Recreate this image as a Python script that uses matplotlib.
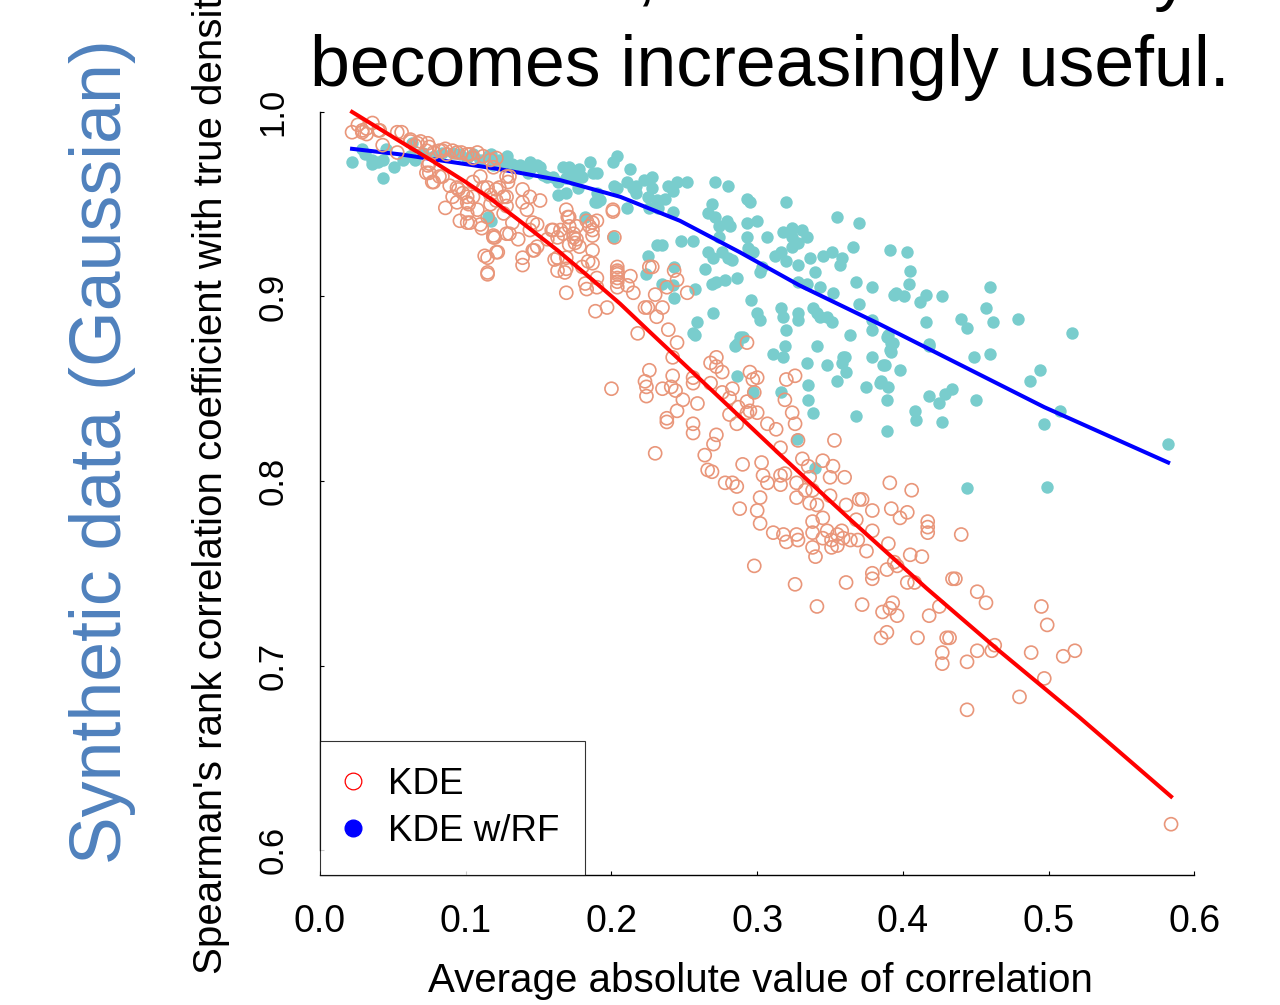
import numpy as np
import matplotlib.pyplot as plt
from matplotlib.lines import Line2D

plt.rcParams['font.family'] = ['Liberation Sans', 'DejaVu Sans']

# KDE (open circles): average |corr| vs Spearman rho with true density
kde_pts = np.array([
    (0.022,0.989),(0.026,0.993),(0.029,0.989),(0.032,0.991),(0.036,0.994),(0.041,0.990),(0.043,0.982),(0.053,0.989),(0.056,0.989),(0.053,0.978),
    (0.062,0.985),(0.065,0.982),(0.069,0.984),(0.074,0.983),(0.073,0.979),(0.078,0.978),(0.084,0.979),(0.087,0.977),(0.094,0.978),(0.101,0.977),
    (0.105,0.975),(0.074,0.971),(0.073,0.967),(0.077,0.962),(0.082,0.965),(0.089,0.960),(0.094,0.959),(0.098,0.956),(0.091,0.954),(0.101,0.951),
    (0.105,0.954),(0.086,0.948),(0.096,0.941),(0.101,0.940),(0.103,0.940),(0.111,0.937),(0.115,0.943),(0.108,0.947),(0.117,0.950),(0.115,0.959),
    (0.119,0.932),(0.113,0.922),(0.122,0.924),(0.115,0.913),(0.128,0.934),(0.132,0.940),(0.126,0.954),(0.128,0.949),(0.121,0.958),(0.130,0.965),
    (0.129,0.962),(0.136,0.931),(0.139,0.921),(0.139,0.917),(0.146,0.925),(0.146,0.940),(0.142,0.947),(0.151,0.952),(0.144,0.954),(0.149,0.927),
    (0.160,0.936),(0.163,0.932),(0.169,0.947),(0.171,0.943),(0.176,0.938),(0.174,0.932),(0.175,0.929),(0.169,0.921),(0.161,0.920),(0.163,0.914),
    (0.168,0.913),(0.169,0.902),(0.182,0.907),(0.183,0.904),(0.187,0.918),(0.187,0.925),(0.187,0.940),(0.183,0.941),(0.201,0.946),(0.202,0.932),
    (0.204,0.914),(0.204,0.910),
    (0.029,0.990),(0.032,0.988),(0.040,0.990),(0.062,0.984),(0.067,0.983),(0.075,0.981),(0.082,0.979),(0.086,0.980),(0.091,0.979),(0.097,0.978),
    (0.103,0.977),(0.108,0.978),(0.112,0.976),(0.117,0.974),(0.121,0.975),(0.075,0.972),(0.075,0.967),(0.078,0.962),(0.084,0.965),(0.095,0.958),
    (0.094,0.951),(0.101,0.954),(0.102,0.950),(0.105,0.962),(0.110,0.965),(0.112,0.959),(0.117,0.955),(0.101,0.945),(0.110,0.939),(0.119,0.933),
    (0.119,0.970),(0.128,0.965),(0.123,0.959),(0.121,0.952),(0.128,0.954),(0.126,0.945),(0.139,0.958),(0.139,0.951),(0.120,0.932),(0.130,0.934),
    (0.144,0.936),(0.149,0.939),(0.147,0.925),(0.156,0.931),(0.159,0.936),(0.163,0.921),(0.165,0.936),(0.170,0.943),(0.171,0.938),(0.167,0.934),
    (0.174,0.934),(0.176,0.931),(0.171,0.928),(0.178,0.927),(0.185,0.938),(0.187,0.936),(0.190,0.941),(0.187,0.933),(0.184,0.919),(0.180,0.916),
    (0.169,0.915),(0.201,0.947),(0.204,0.916),(0.204,0.913),(0.213,0.911),(0.226,0.916),
    (0.115,0.921),(0.121,0.924),(0.115,0.912),(0.190,0.910),(0.190,0.905),(0.189,0.892),(0.197,0.894),(0.204,0.912),(0.204,0.908),(0.204,0.905),
    (0.211,0.906),(0.215,0.902),(0.228,0.916),(0.230,0.901),(0.223,0.894),(0.225,0.894),(0.231,0.889),(0.235,0.894),(0.243,0.914),(0.245,0.909),
    (0.252,0.902),(0.238,0.905),(0.239,0.882),(0.245,0.875),(0.218,0.880),(0.242,0.867),(0.226,0.860),(0.223,0.854),(0.224,0.851),(0.224,0.846),
    (0.200,0.850),(0.235,0.850),(0.241,0.851),(0.242,0.857),(0.249,0.844),(0.245,0.838),(0.238,0.834),(0.238,0.832),(0.256,0.831),(0.256,0.826),
    (0.230,0.815),(0.259,0.842),(0.256,0.853),
    (0.244,0.849),(0.256,0.856),(0.268,0.864),(0.272,0.867),(0.272,0.862),(0.276,0.859),(0.268,0.853),(0.276,0.848),(0.283,0.850),(0.281,0.845),
    (0.287,0.840),(0.281,0.836),(0.286,0.831),(0.293,0.843),(0.293,0.837),(0.295,0.859),(0.297,0.855),(0.300,0.856),(0.298,0.848),(0.295,0.838),
    (0.300,0.837),(0.293,0.875),(0.272,0.825),(0.270,0.820),(0.264,0.814),(0.266,0.806),(0.269,0.805),(0.278,0.799),(0.283,0.799),(0.286,0.797),
    (0.290,0.809),(0.288,0.785),(0.300,0.784),(0.302,0.791),(0.302,0.777),(0.298,0.754),(0.303,0.810),(0.307,0.831),(0.313,0.828),(0.316,0.818),
    (0.304,0.803),(0.307,0.799),(0.316,0.803),(0.319,0.804),(0.316,0.798),(0.320,0.855),(0.326,0.857),(0.319,0.844),(0.324,0.837),(0.326,0.831),
    (0.328,0.822),(0.331,0.812),(0.327,0.799),(0.327,0.791),(0.335,0.808),(0.336,0.802),(0.333,0.795),(0.338,0.795),(0.336,0.788),(0.345,0.811),
    (0.352,0.808),(0.350,0.802),(0.353,0.822),(0.360,0.802),(0.350,0.792),(0.341,0.787),(0.345,0.780),(0.338,0.778),(0.338,0.772),(0.348,0.773),
    (0.351,0.768),(0.345,0.769),(0.355,0.771),(0.358,0.773),(0.359,0.769),(0.351,0.764),(0.355,0.765),(0.338,0.764),(0.340,0.759),(0.311,0.772),
    (0.318,0.771),(0.320,0.767),(0.327,0.771),(0.328,0.768),(0.361,0.787),(0.368,0.779),(0.370,0.790),(0.364,0.768),(0.369,0.768),(0.375,0.762),
    (0.379,0.773),(0.379,0.784),(0.391,0.799),(0.406,0.795),(0.392,0.785),(0.398,0.780),(0.403,0.783),(0.390,0.766),(0.405,0.760),(0.413,0.759),
    (0.417,0.775),(0.417,0.772),(0.417,0.778),(0.379,0.750),(0.379,0.747),(0.389,0.752),(0.394,0.756),(0.361,0.745),(0.326,0.744),
    (0.372,0.790),(0.440,0.771),(0.396,0.754),(0.403,0.745),(0.408,0.745),(0.434,0.747),(0.451,0.740),(0.457,0.734),(0.393,0.734),(0.386,0.729),
    (0.396,0.727),(0.391,0.731),(0.372,0.733),(0.341,0.732),(0.418,0.727),(0.425,0.732),(0.495,0.732),(0.499,0.722),(0.385,0.715),(0.389,0.718),
    (0.410,0.715),(0.430,0.715),(0.427,0.707),(0.427,0.701),(0.444,0.702),(0.451,0.708),(0.461,0.708),(0.463,0.711),(0.488,0.707),(0.510,0.705),
    (0.518,0.708),(0.497,0.693),(0.480,0.683),(0.444,0.676),(0.436,0.747),(0.432,0.715),(0.584,0.614),
])

# KDE w/RF (filled dots)
rf_pts = np.array([
    (0.022,0.973),(0.029,0.980),(0.031,0.977),(0.036,0.974),(0.040,0.973),(0.043,0.964),(0.045,0.980),(0.051,0.970),(0.057,0.974),(0.062,0.976),
    (0.065,0.974),(0.071,0.978),(0.078,0.976),(0.084,0.978),(0.091,0.978),(0.096,0.977),(0.101,0.975),(0.105,0.977),(0.110,0.974),(0.115,0.976),
    (0.117,0.977),(0.123,0.974),(0.128,0.976),(0.123,0.971),(0.132,0.971),(0.137,0.971),(0.144,0.973),(0.149,0.971),(0.144,0.969),(0.153,0.966),
    (0.160,0.965),(0.163,0.955),(0.167,0.970),(0.169,0.964),(0.174,0.966),(0.178,0.969),(0.180,0.965),(0.185,0.973),(0.187,0.967),(0.190,0.956),
    (0.192,0.952),(0.201,0.973),(0.202,0.960),(0.115,0.943),(0.182,0.943),(0.201,0.932),
    (0.036,0.972),(0.043,0.974),(0.063,0.983),(0.119,0.971),(0.117,0.941),
    (0.126,0.973),(0.132,0.972),(0.143,0.967),(0.151,0.970),(0.156,0.965),(0.163,0.962),(0.171,0.970),(0.174,0.963),(0.177,0.959),(0.169,0.956),
    (0.190,0.967),(0.190,0.951),(0.204,0.959),(0.213,0.969),(0.211,0.962),(0.217,0.956),(0.217,0.960),(0.222,0.963),(0.228,0.965),(0.228,0.959),
    (0.231,0.952),(0.225,0.954),(0.211,0.948),(0.226,0.948),(0.225,0.922),(0.231,0.928),(0.224,0.912),
    (0.204,0.976),(0.215,0.959),(0.239,0.960),(0.245,0.962),(0.252,0.962),(0.242,0.957),(0.237,0.953),(0.189,0.951),(0.232,0.948),(0.242,0.946),
    (0.271,0.962),(0.280,0.960),(0.293,0.953),(0.295,0.951),(0.320,0.951),(0.266,0.945),(0.269,0.950),(0.271,0.943),(0.279,0.941),(0.281,0.938),
    (0.274,0.938),(0.293,0.940),(0.300,0.941),(0.318,0.935),(0.324,0.937),(0.331,0.936),(0.324,0.932),(0.334,0.932),(0.324,0.927),(0.328,0.929),
    (0.307,0.932),(0.355,0.943),(0.370,0.940),(0.293,0.932),(0.294,0.926),(0.297,0.924),(0.256,0.930),(0.274,0.932),(0.276,0.924),(0.266,0.924),
    (0.235,0.928),(0.248,0.930),(0.243,0.916),(0.264,0.915),(0.270,0.921),(0.280,0.921),(0.283,0.920),(0.286,0.910),(0.278,0.909),(0.269,0.907),
    (0.272,0.908),(0.257,0.904),(0.243,0.899),(0.242,0.906),(0.235,0.907),(0.302,0.913),(0.303,0.916),(0.312,0.922),(0.316,0.924),(0.320,0.919),
    (0.328,0.917),(0.336,0.921),(0.340,0.913),(0.345,0.922),(0.351,0.924),(0.358,0.921),(0.357,0.917),(0.366,0.927),(0.391,0.925),(0.368,0.908),
    (0.379,0.905),(0.394,0.901),(0.352,0.902),(0.343,0.905),(0.328,0.908),(0.334,0.907),(0.296,0.898),(0.270,0.891),(0.259,0.886),(0.256,0.880),
    (0.300,0.891),(0.302,0.887),(0.316,0.894),(0.318,0.889),(0.328,0.891),(0.328,0.887),(0.338,0.894),(0.341,0.891),(0.343,0.889),(0.348,0.889),
    (0.351,0.886),(0.370,0.896),(0.379,0.887),(0.379,0.882),(0.364,0.879),(0.320,0.882),(0.290,0.878),(0.285,0.873),(0.311,0.869),(0.319,0.873),
    (0.318,0.867),(0.341,0.873),(0.334,0.864),(0.348,0.863),(0.359,0.867),(0.379,0.867),(0.388,0.863),(0.391,0.871),(0.392,0.875),(0.389,0.878),
    (0.403,0.924),(0.405,0.914),(0.404,0.907),(0.395,0.902),(0.401,0.900),(0.412,0.897),(0.416,0.901),(0.427,0.900),(0.460,0.905),(0.457,0.894),
    (0.440,0.888),(0.444,0.883),(0.462,0.886),(0.479,0.888),(0.516,0.880),(0.416,0.886),(0.390,0.879),(0.393,0.875),(0.392,0.870),(0.418,0.874),
    (0.449,0.867),(0.460,0.869),(0.386,0.863),(0.398,0.860),(0.385,0.854),(0.390,0.851),(0.389,0.844),(0.418,0.846),(0.425,0.842),(0.429,0.847),
    (0.434,0.850),(0.450,0.844),(0.487,0.854),(0.494,0.860),(0.508,0.838),(0.497,0.831),(0.408,0.838),(0.409,0.833),(0.427,0.832),(0.389,0.827),
    (0.582,0.820),(0.444,0.796),(0.499,0.797),(0.340,0.807),(0.327,0.823),
    (0.257,0.879),(0.286,0.874),(0.288,0.878),(0.360,0.867),(0.358,0.864),(0.361,0.859),(0.355,0.854),(0.384,0.853),(0.375,0.851),(0.368,0.835),
    (0.418,0.873),(0.286,0.857),(0.297,0.848),(0.316,0.848),(0.335,0.852),(0.335,0.844),(0.338,0.837),
])

# smooth fits
kde_fit_x = [0.022, 0.055, 0.078, 0.100, 0.117, 0.137, 0.163, 0.187, 0.206, 0.226, 0.261,
             0.316, 0.364, 0.416, 0.466, 0.521, 0.584]
kde_fit_y = [1.000, 0.984, 0.973, 0.962, 0.953, 0.941, 0.925, 0.909, 0.896, 0.881, 0.855,
             0.814, 0.779, 0.742, 0.708, 0.672, 0.629]
rf_fit_x = [0.022, 0.055, 0.089, 0.123, 0.165, 0.206, 0.247, 0.288, 0.329, 0.384, 0.497, 0.582]
rf_fit_y = [0.980, 0.977, 0.973, 0.969, 0.963, 0.954, 0.941, 0.924, 0.906, 0.885, 0.840, 0.810]

xticks = [0.0, 0.1, 0.2, 0.3, 0.4, 0.5, 0.6]
yticks = [0.6, 0.7, 0.8, 0.9, 1.0]

fig = plt.figure(figsize=(12.8, 10.05), dpi=100)
ax = fig.add_axes([0.25, 0.1294, 0.6945, 0.7776])

ax.scatter(rf_pts[:, 0], rf_pts[:, 1], s=80, color='#79CDCD', linewidths=0, zorder=2)
ax.plot(rf_fit_x, rf_fit_y, color='#0000FF', lw=2.9, zorder=3, solid_joinstyle='round')
ax.scatter(kde_pts[:, 0], kde_pts[:, 1], s=88, facecolors='none', edgecolors='#E9967A',
           linewidths=1.2, zorder=4)
ax.plot(kde_fit_x, kde_fit_y, color='#FF0000', lw=2.9, zorder=5, solid_joinstyle='round')

ax.set_xlim(0, 0.61)
ax.set_ylim(0.5865, 1.01)
for s in ['top', 'right']:
    ax.spines[s].set_visible(False)
ax.spines['left'].set_bounds(0.6, 1.0)
ax.spines['bottom'].set_bounds(0.0, 0.6)
ax.spines['left'].set_linewidth(1.0)
ax.spines['bottom'].set_linewidth(1.0)

ax.set_xticks(xticks)
ax.set_xticklabels(['%.1f' % v for v in xticks], fontsize=27)
ax.set_yticks(yticks)
ax.set_yticklabels(['%.1f' % v for v in yticks], fontsize=25, rotation=90, va='center')
ax.tick_params(axis='x', direction='in', length=3, pad=21)
ax.tick_params(axis='y', direction='in', length=3, pad=22)

ax.set_xlabel('Average absolute value of correlation', fontsize=29)
ax.xaxis.set_label_coords(0.496, -0.111)
ax.set_ylabel("Spearman's rank correlation coefficient with true density", fontsize=29)
ax.yaxis.set_label_coords(-0.101, 0.511)

handles = [
    Line2D([], [], ls='none', marker='o', ms=12, mfc='none', mec='#FF0000', mew=0.9),
    Line2D([], [], ls='none', marker='o', ms=12, mfc='#0000FF', mec='#0000FF'),
]
leg = ax.legend(handles, ['KDE', 'KDE w/RF'], loc='lower left', bbox_to_anchor=(0, 0),
                fontsize=26.5, frameon=True, fancybox=False, borderpad=0.7,
                handlelength=0.4, handletextpad=0.74, labelspacing=0.34,
                borderaxespad=0)
leg.get_frame().set_edgecolor('black')
leg.get_frame().set_linewidth(0.8)

# title, top line is cut off by the figure edge
fig.text(750 / 1280, 1.003, 'With more, the RF similarity', ha='center', va='baseline', fontsize=51.6)
fig.text(770 / 1280, 1 - 86 / 1005, 'becomes increasingly useful.', ha='center', va='baseline', fontsize=51.6)

fig.text(103 / 1280, 1 - 452 / 1005, 'Synthetic data (Gaussian)', rotation=90, ha='center', va='center',
         fontsize=51.6, color='#4F81BD')

fig.savefig('out.png', dpi=100)
